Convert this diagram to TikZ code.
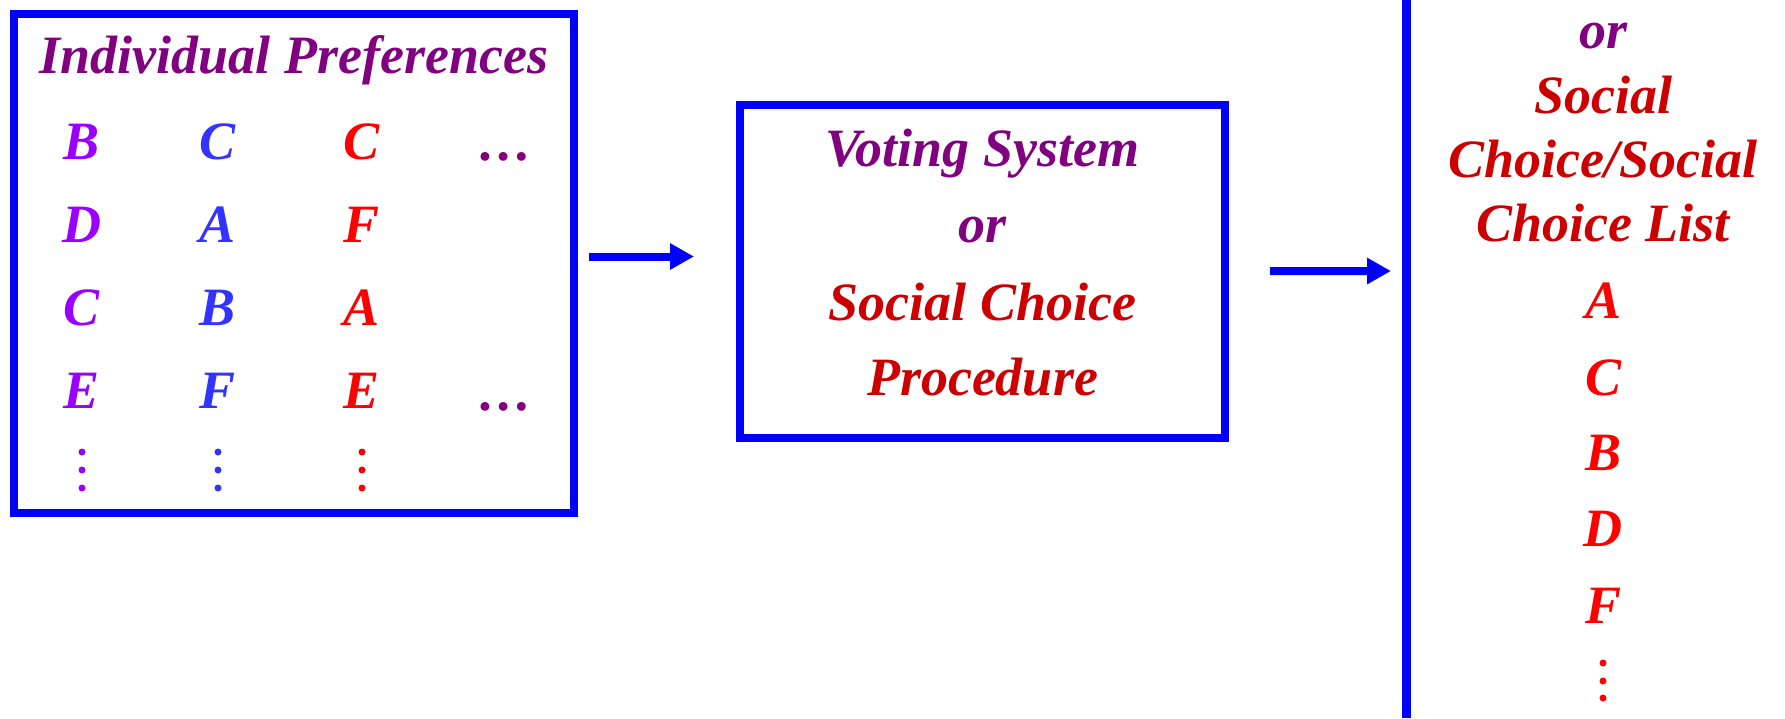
\documentclass[tikz,border=0pt]{standalone}
\usepackage{fontspec}
\setmainfont{Liberation Serif}
\usetikzlibrary{arrows.meta}
\definecolor{boxblue}{HTML}{0000FF}
\definecolor{titlepurple}{HTML}{800080}
\definecolor{colviolet}{HTML}{9900FF}
\definecolor{colblue}{HTML}{3333FF}
\definecolor{colred}{HTML}{FF0000}
\definecolor{darkred}{HTML}{CC0000}
\tikzset{
  txt/.style={anchor=base, inner sep=0pt, font=\fontsize{54}{60}\selectfont\bfseries\itshape},
  boxframe/.style={draw=boxblue, line width=8pt, inner sep=0pt},
  arr/.style={draw=boxblue, line width=8pt, -{Triangle[length=24pt,width=25pt]}},
  vline/.style={draw=boxblue, line width=8.5pt},
}
\begin{document}
\begin{tikzpicture}[x=1pt,y=-1pt]
\useasboundingbox (0,0) rectangle (1785,718);
% boxes
\node[boxframe, minimum width=560pt, minimum height=498.5pt] (L) at (294,263.25) {};
\node[boxframe, minimum width=485pt, minimum height=332.5pt] (M) at (982.5,271.25) {};
% left box text
\node[txt, titlepurple] (title) at (294,73.5) {Individual Preferences};
\node[txt, colviolet] (a1) at (82,159) {B};
\node[txt, colviolet] (a2) at (82,242) {D};
\node[txt, colviolet] (a3) at (82,325.5) {C};
\node[txt, colviolet] (a4) at (82,408.5) {E};
\node[txt, colblue] (b1) at (218,159) {C};
\node[txt, colblue] (b2) at (218,242) {A};
\node[txt, colblue] (b3) at (218,325.5) {B};
\node[txt, colblue] (b4) at (218,408.5) {F};
\node[txt, colred] (c1) at (362,159) {C};
\node[txt, colred] (c2) at (362,242) {F};
\node[txt, colred] (c3) at (362,325.5) {A};
\node[txt, colred] (c4) at (362,408.5) {E};
\node[txt, titlepurple] (e1) at (505.7,160.5) {\ldots};
\node[txt, titlepurple] (e4) at (505.7,410) {\ldots};
\foreach \yy in {452,470,488}{
  \fill[colviolet] (82,\yy) circle (3.5);
  \fill[colblue] (218,\yy) circle (3.5);
  \fill[colred] (362,\yy) circle (3.5);
}
% middle box text
\node[txt, titlepurple] (m1) at (982.5,166.5) {Voting System};
\node[txt, titlepurple] (m2) at (982.5,242.5) {or};
\node[txt, darkred] (m3) at (982.5,320) {Social Choice};
\node[txt, darkred] (m4) at (982.5,395) {Procedure};
% arrows
\coordinate (a1s) at (589,256.5);
\coordinate (a1e) at (694,256.5);
\draw[arr] (a1s) -- (a1e);
\coordinate (a2e) at (1391,271);
\draw[arr, shorten <=41pt] (M.east) -- (a2e);
% vertical line
\coordinate (vt) at (1406.5,0);
\coordinate (vb) at (1406.5,718);
\draw[vline] (vt) -- (vb);
% right column
\node[txt, titlepurple] (r0) at (1603,48) {or};
\node[txt, darkred] (r1) at (1603,113) {Social};
\node[txt, darkred] (r2) at (1603,177) {Choice/Social};
\node[txt, darkred] (r3) at (1603,241) {Choice List};
\node[txt, colred] (rA) at (1603,318) {A};
\node[txt, colred] (rC) at (1603,395) {C};
\node[txt, colred] (rB) at (1603,470) {B};
\node[txt, colred] (rD) at (1603,546) {D};
\node[txt, colred] (rF) at (1603,623) {F};
\foreach \yy in {663,681,698}{
  \fill[colred] (1603,\yy) circle (3.5);
}
\end{tikzpicture}
\end{document}
